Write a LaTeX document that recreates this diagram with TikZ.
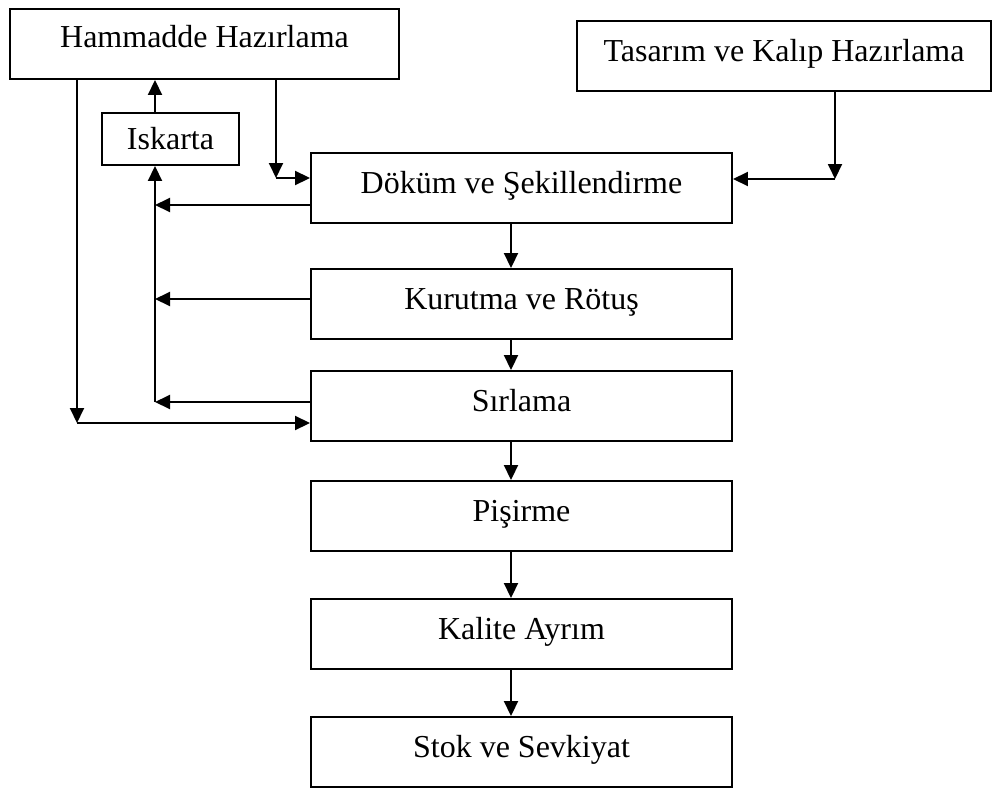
\documentclass[tikz,border=0pt]{standalone}
\usepackage{fontspec}
\setmainfont{Liberation Serif}
\usetikzlibrary{arrows.meta}

\begin{document}
\begin{tikzpicture}[
        stepbox/.style={draw,line width=1.1pt,inner sep=0pt,align=center,
            font=\fontsize{18.2pt}{21pt}\selectfont},
        mainbox/.style={stepbox,minimum width=8.42cm,text height=.80cm,text depth=.60cm},
        arr/.style={-{Triangle[length=.30cm,width=.28cm]},line width=1.1pt}]
        \useasboundingbox (0,0) rectangle (19.84,-15.76);
        \node[stepbox,minimum width=7.78cm,text height=.76cm,text depth=.64cm] (ham) at (4.09,-0.88) {Hammadde Hazırlama};
        \node[stepbox,minimum width=8.28cm,text height=.80cm,text depth=.60cm] (tas) at (15.68,-1.12) {Tasarım ve Kalıp Hazırlama};
        \node[stepbox,minimum width=2.74cm,text height=.72cm,text depth=.32cm] (isk) at (3.41,-2.78) {Iskarta};
        \node[mainbox] (dok) at (10.43,-3.76) {Döküm ve Şekillendirme};
        \node[mainbox] (kur) at (10.43,-6.08) {Kurutma ve Rötuş};
        \node[mainbox] (sir) at (10.43,-8.12) {Sırlama};
        \node[mainbox] (pis) at (10.43,-10.32) {Pişirme};
        \node[mainbox] (kal) at (10.43,-12.68) {Kalite Ayrım};
        \node[mainbox] (sto) at (10.43,-15.04) {Stok ve Sevkiyat};
        % guide points
        \coordinate (spine) at (10.22,0);
        \coordinate (rej) at (3.10,0);
        \coordinate (hamin) at (5.52,-3.56);
        \coordinate (tasin) at (16.70,-3.58);
        \coordinate (bypass) at (1.54,-8.46);
        \coordinate (rejfoot) at (3.10,-8.04);
        % main flow
        \draw[arr] (dok.south -| spine) -- (kur.north -| spine);
        \draw[arr] (kur.south -| spine) -- (sir.north -| spine);
        \draw[arr] (sir.south -| spine) -- (pis.north -| spine);
        \draw[arr] (pis.south -| spine) -- (kal.north -| spine);
        \draw[arr] (kal.south -| spine) -- (sto.north -| spine);
        % inputs
        \draw[arr] (ham.south -| hamin) -- (hamin);
        \draw[arr] (hamin) -- (hamin -| dok.west);
        \draw[arr] (tas.south -| tasin) -- (tasin);
        \draw[arr] (tasin) -- (tasin -| dok.east);
        \draw[arr] (ham.south -| bypass) -- (bypass);
        \draw[arr] (bypass) -- (bypass -| sir.west);
        % rejects
        \draw[arr] (dok.west |- 0,-4.10) -- (rej |- 0,-4.10);
        \draw[arr] (kur.west |- 0,-5.98) -- (rej |- 0,-5.98);
        \draw[arr] (sir.west |- rejfoot) -- (rejfoot);
        \draw[arr] (rejfoot) -- (isk.south -| rej);
        \draw[arr] (isk.north -| rej) -- (ham.south -| rej);
\end{tikzpicture}
\end{document}
